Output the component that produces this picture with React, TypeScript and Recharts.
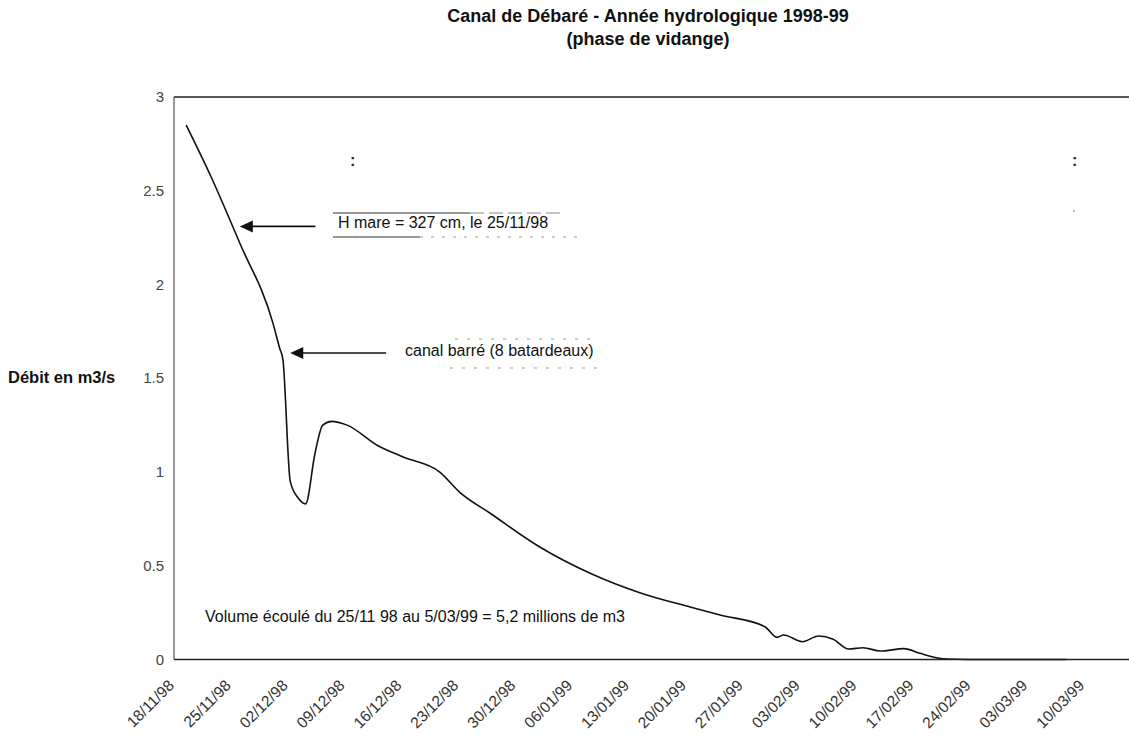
import { LineChart, Line, XAxis, YAxis, ReferenceLine } from 'recharts';

// days counted from 18/11/98, flow in m3/s
const dayOffsets = [1.5, 4.5, 8.1, 12.2, 13.0, 13.4, 14.3, 15.3, 16.2, 17.35, 18.3, 19.4, 21.3, 25.1, 28.2, 32.7, 35.2, 38.9, 45.0, 51.2, 57.4, 63.5, 67.2, 72.7, 74.2, 75.0, 77.3, 79.3, 81.1, 83.0, 84.8, 86.9, 89.8, 91.8, 93.5, 95.1, 100, 105, 109.8];
const flowM3s = [2.85, 2.58, 2.22, 1.79, 1.66, 1.6, 0.95, 0.86, 0.83, 1.1, 1.25, 1.27, 1.25, 1.14, 1.08, 1.0, 0.89, 0.78, 0.6, 0.46, 0.355, 0.28, 0.237, 0.175, 0.118, 0.131, 0.095, 0.125, 0.108, 0.056, 0.063, 0.045, 0.058, 0.033, 0.012, 0.003, 0, 0, 0];

const tickDays = [0, 7, 14, 21, 28, 35, 42, 49, 56, 63, 70, 77, 84, 91, 98, 105, 112];
const tickLabels = ['18/11/98', '25/11/98', '02/12/98', '09/12/98', '16/12/98', '23/12/98', '30/12/98', '06/01/99', '13/01/99', '20/01/99', '27/01/99', '03/02/99', '10/02/99', '17/02/99', '24/02/99', '03/03/99', '10/03/99'];
const yTicks = [0, 0.5, 1, 1.5, 2, 2.5, 3];

const data = dayOffsets.map((day, i) => ({ day, flow: flowM3s[i] }));

const FONT = '"Liberation Sans", Arial, Helvetica, sans-serif';

const XTick = ({ x, y, payload }: any) => {
  const label = tickLabels[tickDays.indexOf(payload.value)];
  const ax = x + 1;
  const ay = y + 27;
  return (
    <text x={ax} y={ay} transform={`rotate(-45 ${ax} ${ay})`} textAnchor="end" fontSize={15.5} fill="#333" fontFamily={FONT}>
      {label}
    </text>
  );
};

const YTick = ({ x, y, payload }: any) => (
  <text x={x} y={y + 5} textAnchor="end" fontSize={15} fill="#444" fontFamily={FONT}>
    {payload.value}
  </text>
);

const Arrow = (props: any) => {
  const { x1, y1, x2, y2 } = props;
  return (
    <g>
      <line x1={x1} y1={y1} x2={x2 + 10} y2={y2} stroke="#111" strokeWidth={1.6} />
      <polygon points={`${x2},${y2} ${x2 + 13},${y2 - 6} ${x2 + 13},${y2 + 6}`} fill="#111" />
    </g>
  );
};

export default function App() {
  return (
    <div style={{ position: 'absolute', left: 0, top: 0, background: '#fff' }}>
      <LineChart width={1129} height={735} data={data} margin={{ top: 97, right: 0, left: 0, bottom: 0 }}>
        <XAxis
          type="number"
          dataKey="day"
          domain={[0, 117.5]}
          ticks={tickDays}
          interval={0}
          tickLine={false}
          tickSize={0}
          tickMargin={0}
          height={75.5}
          axisLine={{ stroke: '#222', strokeWidth: 1.3 }}
          tick={<XTick />}
        />
        <YAxis
          domain={[0, 3]}
          ticks={yTicks}
          width={174}
          tickLine={false}
          tickSize={0}
          tickMargin={10}
          axisLine={{ stroke: '#555', strokeWidth: 1.2 }}
          tick={<YTick />}
        />
        <ReferenceLine y={3} stroke="#222" strokeWidth={1.3} />
        <ReferenceLine segment={[{ x: 17.4, y: 2.31 }, { x: 8.1, y: 2.31 }]} shape={Arrow} ifOverflow="visible" />
        <ReferenceLine segment={[{ x: 26.1, y: 1.635 }, { x: 14.3, y: 1.635 }]} shape={Arrow} ifOverflow="visible" />
        <Line type="monotone" dataKey="flow" stroke="#111" strokeWidth={1.6} dot={false} isAnimationActive={false} />

        <text x={648} y={22} textAnchor="middle" fontSize={18} fontWeight="bold" fontFamily={FONT} fill="#111">
          Canal de Débaré - Année hydrologique 1998-99
        </text>
        <text x={648} y={45} textAnchor="middle" fontSize={18} fontWeight="bold" fontFamily={FONT} fill="#111">
          (phase de vidange)
        </text>
        <text x={8} y={383} fontSize={16.5} fontWeight="bold" fontFamily={FONT} fill="#111">
          Débit en m3/s
        </text>

        <line x1={333} y1={213} x2={470} y2={213} stroke="#333" strokeWidth={1} />
        <line x1={470} y1={213} x2={560} y2={213} stroke="#888" strokeWidth={1} strokeDasharray="14 5" />
        <text x={338} y={228} fontSize={16} fontFamily={FONT} fill="#111">H mare = 327 cm, le 25/11/98</text>
        <line x1={333} y1={237} x2={420} y2={237} stroke="#333" strokeWidth={1} />
        <line x1={420} y1={237} x2={580} y2={237} stroke="#999" strokeWidth={1} strokeDasharray="3 8" />

        <line x1={455} y1={339} x2={595} y2={339} stroke="#999" strokeWidth={1} strokeDasharray="3 9" />
        <text x={405} y={356} fontSize={16} fontFamily={FONT} fill="#111">canal barré (8 batardeaux)</text>
        <line x1={450} y1={368} x2={600} y2={368} stroke="#999" strokeWidth={1} strokeDasharray="3 9" />

        <text x={205} y={622} fontSize={16} fontFamily={FONT} fill="#111">
          Volume écoulé du 25/11 98 au 5/03/99 = 5,2 millions de m3
        </text>
        <text x={350} y={166} fontSize={16} fontWeight="bold" fontFamily={FONT} fill="#222">:</text>
        <text x={1072} y={166} fontSize={16} fontWeight="bold" fontFamily={FONT} fill="#222">:</text>
        <circle cx={1074} cy={211} r={0.8} fill="#666" />
        <circle cx={500} cy={688} r={0.8} fill="#666" />
      </LineChart>
    </div>
  );
}
